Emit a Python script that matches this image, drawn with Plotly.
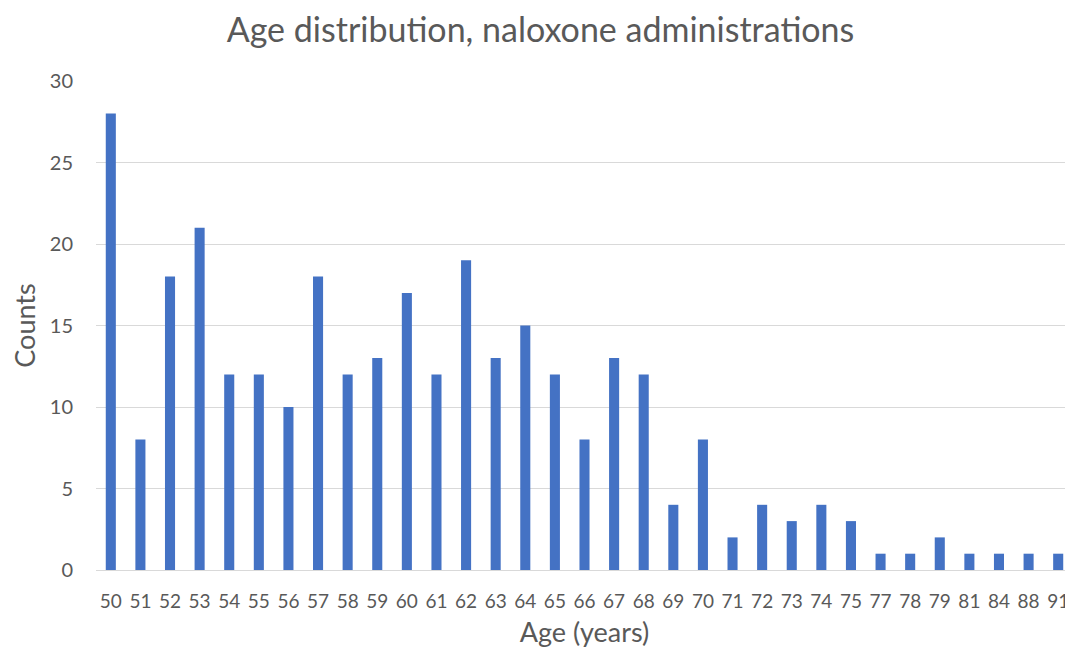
import plotly.graph_objects as go

ages = ["50","51","52","53","54","55","56","57","58","59","60","61","62","63","64","65",
        "66","67","68","69","70","71","72","73","74","75","77","78","79","81","84","88","91"]
counts = [28,8,18,21,12,12,10,18,12,13,17,12,19,13,15,12,8,13,12,4,8,2,4,3,4,3,1,1,2,1,1,1,1]

FONT = "Lato"
fig = go.Figure(go.Bar(x=ages, y=counts, marker_color="#4472C4", marker_line_width=0))
fig.update_layout(
    width=1065, height=648,
    paper_bgcolor="white", plot_bgcolor="white",
    margin=dict(l=88, r=0, t=73, b=86),
    bargap=0.66,
    showlegend=False,
    title=dict(text="Age distribution, naloxone administrations", x=0.5, xanchor="center",
               y=0.966, yanchor="middle", font=dict(family=FONT, size=34, color="#595959")),
    font=dict(family=FONT, color="#595959"),
)
fig.update_xaxes(type="category", showgrid=False, showline=True, linecolor="#D9D9D9", linewidth=1,
                 ticks="", ticklabelstandoff=14, tickfont=dict(size=19, color="#595959"),
                 title=dict(text="Age (years)", font=dict(size=27, color="#595959"), standoff=12))
fig.update_yaxes(range=[0, 30], dtick=5, showgrid=True, gridcolor="#D9D9D9", gridwidth=1,
                 zeroline=False, showline=False, ticks="", ticklabelstandoff=22,
                 tickfont=dict(size=20, color="#595959"),
                 title=dict(text="Counts", font=dict(size=27, color="#595959"), standoff=16))
fig.write_html("out.html")
